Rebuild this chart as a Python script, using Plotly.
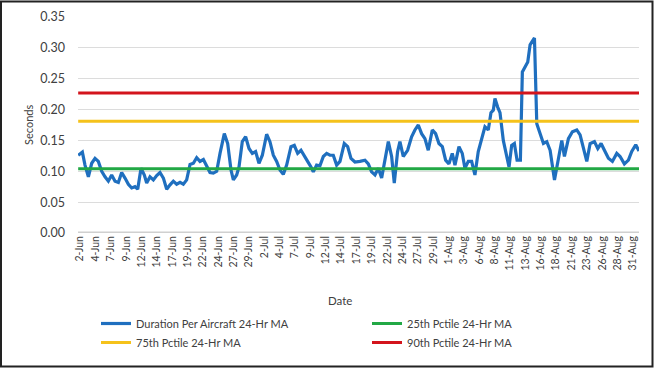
import pandas as pd
import plotly.graph_objects as go

# ---- data ----
start_date = "2019-06-02 00:00"
day_offset = [-0.30, 0.38, 0.81, 1.36, 1.90, 2.44, 2.98, 3.53, 4.07, 4.61, 5.15, 5.70, 6.24, 6.78,
              7.32, 7.87, 8.41, 8.95, 9.39, 9.93, 10.47, 10.85, 11.39, 11.94, 12.48, 13.02, 13.57,
              14.11, 14.65, 15.19, 15.73, 16.28, 16.82, 17.36, 17.91, 18.45, 18.99, 19.53, 20.08,
              20.62, 21.16, 21.70, 22.25, 22.79, 23.49, 24.04, 24.58, 24.96, 25.50, 25.88, 26.42,
              26.96, 27.51, 28.05, 28.59, 29.13, 29.68, 30.38, 30.92, 31.47, 32.01, 32.55, 33.09,
              33.64, 34.34, 34.88, 35.43, 35.97, 36.51, 37.05, 37.60, 37.98, 38.52, 39.06, 39.61,
              40.15, 40.69, 41.23, 41.78, 42.32, 43.02, 43.57, 44.11, 44.76, 45.57, 46.39, 46.93,
              47.47, 48.02, 48.56, 49.10, 49.64, 50.19, 50.73, 51.16, 51.70, 52.08, 52.62, 53.33,
              53.98, 54.52, 55.07, 55.61, 56.15, 56.69, 57.35, 57.89, 58.43, 58.98, 59.52, 60.06,
              60.60, 61.04, 61.69, 62.23, 62.66, 63.21, 63.75, 64.29, 64.83, 65.38, 65.92, 66.46,
              66.90, 67.28, 67.55, 67.99, 68.37, 68.91, 69.46, 69.84, 70.27, 70.71, 71.15, 71.69,
              72.01, 72.45, 72.89, 73.27, 73.65, 73.98, 74.36, 74.90, 75.44, 75.99, 76.53, 77.24,
              77.89, 78.43, 78.86, 79.51, 80.16, 80.87, 81.41, 81.95, 82.50, 83.04, 83.74, 84.29,
              84.83, 85.37, 86.02, 86.67, 87.38, 87.92, 88.62, 89.28, 89.82, 90.47, 91.00]
duration_ma = [0.126, 0.131, 0.110, 0.091, 0.113, 0.121, 0.116, 0.100, 0.091, 0.084, 0.094, 0.084,
               0.082, 0.098, 0.089, 0.079, 0.073, 0.075, 0.071, 0.105, 0.094, 0.081, 0.091, 0.086,
               0.093, 0.098, 0.089, 0.071, 0.078, 0.084, 0.079, 0.082, 0.079, 0.086, 0.111, 0.113,
               0.122, 0.116, 0.119, 0.107, 0.098, 0.097, 0.100, 0.129, 0.161, 0.145, 0.102, 0.086,
               0.094, 0.107, 0.148, 0.156, 0.137, 0.129, 0.132, 0.113, 0.126, 0.160, 0.148, 0.126,
               0.116, 0.102, 0.095, 0.110, 0.140, 0.142, 0.129, 0.134, 0.124, 0.116, 0.107, 0.099,
               0.110, 0.109, 0.124, 0.129, 0.126, 0.126, 0.110, 0.116, 0.145, 0.140, 0.121, 0.115,
               0.116, 0.118, 0.112, 0.099, 0.094, 0.105, 0.089, 0.121, 0.148, 0.124, 0.081, 0.132,
               0.148, 0.124, 0.134, 0.156, 0.167, 0.175, 0.161, 0.153, 0.134, 0.167, 0.161, 0.145,
               0.140, 0.118, 0.112, 0.129, 0.110, 0.140, 0.129, 0.105, 0.116, 0.116, 0.094, 0.132,
               0.153, 0.172, 0.167, 0.195, 0.199, 0.218, 0.204, 0.195, 0.150, 0.126, 0.107, 0.142,
               0.145, 0.118, 0.118, 0.261, 0.269, 0.277, 0.305, 0.310, 0.316, 0.177, 0.159, 0.145,
               0.148, 0.134, 0.086, 0.121, 0.150, 0.124, 0.153, 0.164, 0.167, 0.159, 0.140, 0.116,
               0.145, 0.148, 0.137, 0.145, 0.134, 0.121, 0.116, 0.129, 0.124, 0.112, 0.118, 0.132,
               0.143, 0.133]
pctile_25 = 0.104
pctile_75 = 0.181
pctile_90 = 0.227

tick_dates = ["2019-06-02 00:00", "2019-06-04 12:00", "2019-06-07 00:00", "2019-06-09 12:00",
              "2019-06-12 00:00", "2019-06-14 12:00", "2019-06-17 00:00", "2019-06-19 12:00",
              "2019-06-22 00:00", "2019-06-24 12:00", "2019-06-27 00:00", "2019-06-29 12:00",
              "2019-07-02 00:00", "2019-07-04 12:00", "2019-07-07 00:00", "2019-07-09 12:00",
              "2019-07-12 00:00", "2019-07-14 12:00", "2019-07-17 00:00", "2019-07-19 12:00",
              "2019-07-22 00:00", "2019-07-24 12:00", "2019-07-27 00:00", "2019-07-29 12:00",
              "2019-08-01 00:00", "2019-08-03 12:00", "2019-08-06 00:00", "2019-08-08 12:00",
              "2019-08-11 00:00", "2019-08-13 12:00", "2019-08-16 00:00", "2019-08-18 12:00",
              "2019-08-21 00:00", "2019-08-23 12:00", "2019-08-26 00:00", "2019-08-28 12:00",
              "2019-08-31 00:00"]
tick_labels = ["2-Jun", "4-Jun", "7-Jun", "9-Jun", "12-Jun", "14-Jun", "17-Jun", "19-Jun",
               "22-Jun", "24-Jun", "27-Jun", "29-Jun", "2-Jul", "4-Jul", "7-Jul", "9-Jul",
               "12-Jul", "14-Jul", "17-Jul", "19-Jul", "22-Jul", "24-Jul", "27-Jul", "29-Jul",
               "1-Aug", "3-Aug", "6-Aug", "8-Aug", "11-Aug", "13-Aug", "16-Aug", "18-Aug",
               "21-Aug", "23-Aug", "26-Aug", "28-Aug", "31-Aug"]
y_ticks = [0.00, 0.05, 0.10, 0.15, 0.20, 0.25, 0.30, 0.35]

# ---- build ----
t0 = pd.Timestamp(start_date)
x_dates = [t0 + pd.Timedelta(days=d) for d in day_offset]
x_span = [x_dates[0], x_dates[-1]]

FONT = "Lato, 'Open Sans', sans-serif"
TXT = "#404040"

fig = go.Figure()
fig.add_trace(go.Scatter(x=x_dates, y=duration_ma, mode="lines",
                         name="Duration Per Aircraft 24-Hr MA", legend="legend",
                         line=dict(color="#1F6FBF", width=3.2)))
fig.add_trace(go.Scatter(x=x_span, y=[pctile_25, pctile_25], mode="lines", legend="legend2",
                         name="25th Pctile 24-Hr MA", line=dict(color="#22A845", width=3)))
fig.add_trace(go.Scatter(x=x_span, y=[pctile_75, pctile_75], mode="lines", legend="legend",
                         name="75th Pctile 24-Hr MA", line=dict(color="#F5C21B", width=3)))
fig.add_trace(go.Scatter(x=x_span, y=[pctile_90, pctile_90], mode="lines", legend="legend2",
                         name="90th Pctile 24-Hr MA", line=dict(color="#D3141C", width=3)))

L, R, T, B = 78, 15, 17, 148
W, H = 654, 381
pw, ph = W - L - R, H - T - B

def px_x(p):
    return (p - L) / pw

def px_y(p):
    return (H - B - p) / ph

leg_common = dict(orientation="v", xanchor="left", yanchor="top", itemwidth=30,
                  font=dict(size=11, color=TXT), bgcolor="rgba(0,0,0,0)",
                  tracegroupgap=0)

fig.update_layout(
    width=W, height=H,
    margin=dict(l=L, r=R, t=T, b=B, autoexpand=False),
    paper_bgcolor="white", plot_bgcolor="white",
    font=dict(family=FONT, color=TXT, size=11),
    showlegend=True,
    legend=dict(x=px_x(96), y=px_y(309), **leg_common),
    legend2=dict(x=px_x(367), y=px_y(309), **leg_common),
    xaxis=dict(type="date",
               range=[t0 + pd.Timedelta(days=-0.33), t0 + pd.Timedelta(days=91.0)],
               tickmode="array", tickvals=[pd.Timestamp(d) for d in tick_dates],
               ticktext=tick_labels, tickangle=-90,
               tickfont=dict(size=10.5, color=TXT),
               showgrid=False, zeroline=False, showline=False, ticks=""),
    yaxis=dict(range=[0, 0.35], tickmode="array", tickvals=y_ticks,
               tickformat=".2f", tickfont=dict(size=12.5, color=TXT),
               showgrid=True, gridcolor="#DCDCDC", gridwidth=1,
               zeroline=False, showline=False, ticks="", ticklabelstandoff=12),
    annotations=[
        dict(text="Seconds", xref="paper", yref="paper", x=px_x(28), y=0.5,
             xanchor="center", yanchor="middle",
             textangle=-90, showarrow=False, font=dict(size=11, color=TXT)),
        dict(text="Date", xref="paper", yref="paper", x=px_x(340), y=px_y(300),
             xanchor="center", yanchor="middle",
             showarrow=False, font=dict(size=11.5, color=TXT)),
    ],
    shapes=[
        dict(type="line", xref="paper", yref="y", x0=0, x1=1, y0=0, y1=0,
             line=dict(color="#D0D0D0", width=3), layer="below"),
        dict(type="rect", xref="paper", yref="paper",
             x0=px_x(1), x1=px_x(652.5), y0=px_y(366.5), y1=px_y(1.5),
             line=dict(color="#222222", width=2)),
    ],
)

fig.write_html("out.html", config={"displayModeBar": False},
               post_script="document.body.style.margin='0';document.body.style.overflow='hidden';")
